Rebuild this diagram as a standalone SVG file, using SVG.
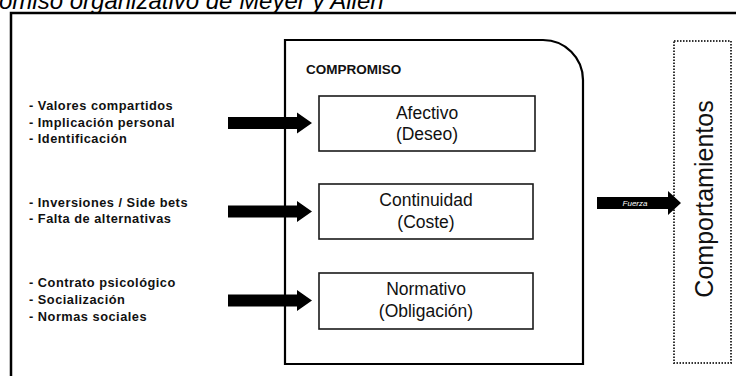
<svg xmlns="http://www.w3.org/2000/svg" width="736" height="376" viewBox="0 0 736 376">
<style>
.bg{fill:#ffffff}
.frame{fill:none;stroke:#000;stroke-width:2.5}
.box{fill:#fff;stroke:#1a1a1a;stroke-width:1.6}
.dot{fill:none;stroke:#333;stroke-width:2;stroke-dasharray:1.5 1.5}
.lbl{font-family:"Liberation Sans",Arial,sans-serif;font-size:12.8px;font-weight:bold;fill:#111;letter-spacing:0.5px}
.cap{font-family:"Liberation Sans",Arial,sans-serif;font-size:17.5px;fill:#111;text-anchor:middle}
.title{font-family:"Liberation Sans",Arial,sans-serif;font-size:24px;font-style:italic;fill:#000}
.arrow{fill:#000}
</style>
<rect class="bg" x="0" y="0" width="736" height="376"/>
<text class="title" x="-1" y="9">omiso organizativo de Meyer y Allen</text>
<rect class="frame" x="11" y="13" width="800" height="500"/>

<g id="compromiso">
<path class="frame" style="stroke-width:2.2" d="M285 40 H543 A40 40 0 0 1 583 80 V364 H285 Z"/>
<text x="306" y="74" style="font-family:'Liberation Sans',Arial,sans-serif;font-size:13.5px;font-weight:bold;fill:#111">COMPROMISO</text>
</g>

<g id="afectivo">
<rect class="box" x="319" y="96" width="216" height="55"/>
<text class="cap" x="427" y="119">Afectivo</text>
<text class="cap" x="427" y="140">(Deseo)</text>
</g>
<g id="continuidad">
<rect class="box" x="319" y="184" width="214" height="55"/>
<text class="cap" x="426" y="206">Continuidad</text>
<text class="cap" x="426" y="228">(Coste)</text>
</g>
<g id="normativo">
<rect class="box" x="319" y="273" width="214" height="56"/>
<text class="cap" x="426" y="295">Normativo</text>
<text class="cap" x="426" y="317">(Obligación)</text>
</g>

<g id="factores-afectivo">
<text class="lbl" x="29" y="110">- Valores compartidos</text>
<text class="lbl" x="29" y="126.5">- Implicación personal</text>
<text class="lbl" x="29" y="143">- Identificación</text>
</g>
<g id="factores-continuidad">
<text class="lbl" x="29" y="206.5">- Inversiones / Side bets</text>
<text class="lbl" x="29" y="223">- Falta de alternativas</text>
</g>
<g id="factores-normativo">
<text class="lbl" x="29" y="287">- Contrato psicológico</text>
<text class="lbl" x="29" y="304">- Socialización</text>
<text class="lbl" x="29" y="320.5">- Normas sociales</text>
</g>

<g id="comportamientos">
<rect class="dot" x="674" y="41" width="57" height="322"/>
<text transform="translate(713 199) rotate(-90)" style="font-family:'Liberation Sans',Arial,sans-serif;font-size:25px;fill:#111;text-anchor:middle">Comportamientos</text>
</g>

<g id="connectors">
<path class="arrow" d="M228 117 H297 V112.5 L312 123 L297 133.5 V129 H228 Z"/>
<path class="arrow" d="M228 205.5 H297 V201 L312 211.5 L297 222 V217.5 H228 Z"/>
<path class="arrow" d="M228 294.5 H297 V290 L312 300.5 L297 311 V306.5 H228 Z"/>
<path class="arrow" d="M597 197 H668 V191 L681 203 L668 215 V209 H597 Z"/>
<text x="635" y="206" style="font-family:'Liberation Sans',Arial,sans-serif;font-size:8px;font-style:italic;fill:#fff;text-anchor:middle">Fuerza</text>
</g>
</svg>
